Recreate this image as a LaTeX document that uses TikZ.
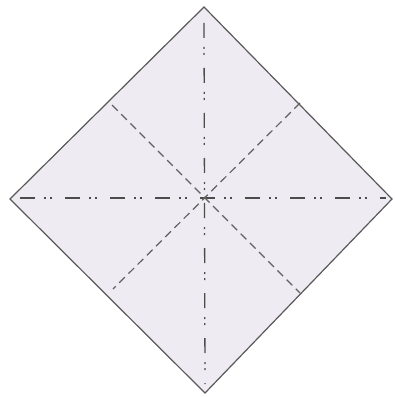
\documentclass[tikz,border=0pt]{standalone}
\begin{document}
\begin{tikzpicture}[x=1pt,y=-1pt,
  paper/.style={draw=black!65, line width=1.2pt, fill=lavpaper, line join=miter},
  mountain/.style={draw=black!70, line width=1.3pt, dash pattern=on 15pt off 9pt on 2pt off 4pt on 2pt off 13pt},
  valley/.style={draw=black!62, line width=1.2pt, dash pattern=on 8pt off 5pt}]
\definecolor{lavpaper}{RGB}{238,235,243}
\useasboundingbox (0,0) rectangle (394,398);
\coordinate (T) at (204,7);
\coordinate (R) at (392,199);
\coordinate (B) at (205,393);
\coordinate (L) at (10,199);
\draw[paper] (T) -- (R) -- (B) -- (L) -- cycle;
\coordinate (v1) at (204,23);
\coordinate (v2) at (205,384);
\coordinate (h1) at (20,198);
\coordinate (h2) at (386,198);
\draw[mountain] (v1) -- (v2);
\draw[mountain] (h1) -- (h2);
\coordinate (ul) at (112,105);
\coordinate (lr) at (300,293);
\coordinate (ur) at (300,103);
\coordinate (ll) at (113,289);
\draw[valley] (ul) -- (lr);
\draw[valley] (ur) -- (ll);
\end{tikzpicture}
\end{document}
